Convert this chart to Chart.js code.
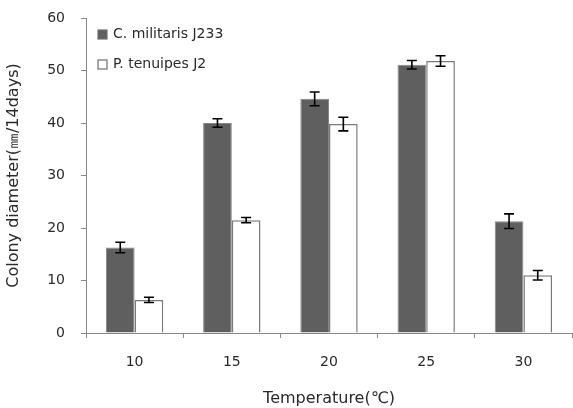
<!DOCTYPE html>
<html>
<head>
<meta charset="utf-8">
<script src="https://cdn.jsdelivr.net/npm/chart.js@4.4.1/dist/chart.umd.min.js"></script>
<style>
  body { margin: 0; background: #fff; }
</style>
</head>
<body>
<canvas id="colony-chart" width="573" height="408"></canvas>
<script>
const temperatures = ['10', '15', '20', '25', '30'];
const militarisMeans = [16.3, 40.0, 44.6, 51.1, 21.3];
const militarisErrors = [1.0, 0.8, 1.3, 0.8, 1.4];
const tenuipesMeans = [6.3, 21.5, 39.8, 51.8, 11.0];
const tenuipesErrors = [0.5, 0.5, 1.3, 1.0, 0.9];
const yTicks = [0, 10, 20, 30, 40, 50, 60];

const fontFamily = "'DejaVu Sans', sans-serif";

// error bars, drawn on top of the bars
const errorBars = {
  id: 'errorBars',
  afterDatasetsDraw(chart) {
    const ctx = chart.ctx;
    const yScale = chart.scales.y;
    ctx.save();
    ctx.strokeStyle = '#000';
    ctx.lineWidth = 1.6;
    chart.data.datasets.forEach((ds, i) => {
      const meta = chart.getDatasetMeta(i);
      meta.data.forEach((bar, j) => {
        const top = yScale.getPixelForValue(ds.data[j] + ds.errors[j]);
        const bottom = yScale.getPixelForValue(ds.data[j] - ds.errors[j]);
        const x = bar.x;
        ctx.beginPath();
        ctx.moveTo(x, top); ctx.lineTo(x, bottom);
        ctx.moveTo(x - 5, top); ctx.lineTo(x + 5, top);
        ctx.moveTo(x - 5, bottom); ctx.lineTo(x + 5, bottom);
        ctx.stroke();
      });
    });
    ctx.restore();
  }
};

// legend inside the plot, top left
const insideLegend = {
  id: 'insideLegend',
  afterDraw(chart) {
    const ctx = chart.ctx;
    const area = chart.chartArea;
    ctx.save();
    ctx.font = '14px ' + fontFamily;
    ctx.textBaseline = 'middle';
    chart.data.datasets.forEach((ds, i) => {
      const y = area.top + 12 + i * 30;
      const x = area.left + 12;
      ctx.fillStyle = ds.backgroundColor;
      ctx.fillRect(x, y, 9, 9);
      ctx.strokeStyle = '#6e6e6e';
      ctx.lineWidth = 1.2;
      ctx.strokeRect(x, y, 9, 9);
      ctx.fillStyle = '#2a2a2a';
      ctx.fillText(ds.label, x + 15, y + 4.5);
    });
    ctx.restore();
  }
};

const ctx = document.getElementById('colony-chart');

new Chart(ctx, {
  type: 'bar',
  data: {
    labels: temperatures,
    datasets: [{
      label: 'C. militaris J233',
      data: militarisMeans,
      errors: militarisErrors,
      backgroundColor: '#5f5f5f',
      borderColor: '#858585',
      borderWidth: 1
    }, {
      label: 'P. tenuipes J2',
      data: tenuipesMeans,
      errors: tenuipesErrors,
      backgroundColor: '#ffffff',
      borderColor: '#7a7a7a',
      borderWidth: 1.5
    }]
  },
  options: {
    responsive: false,
    animation: false,
    layout: { padding: { top: 18, right: 1, left: 0, bottom: 0 } },
    datasets: {
      bar: { categoryPercentage: 0.59, barPercentage: 1.0 }
    },
    scales: {
      x: {
        grid: {
          offset: true,
          drawOnChartArea: false,
          tickLength: 5,
          color: '#888'
        },
        border: { color: '#888', width: 1 },
        ticks: {
          color: '#2a2a2a',
          padding: 16,
          font: { family: fontFamily, size: 14 }
        },
        title: {
          display: true,
          text: 'Temperature(℃)',
          color: '#2a2a2a',
          padding: { top: 10, bottom: 0 },
          font: { family: fontFamily, size: 16 }
        },
        afterFit(scale) { scale.height = 75; }
      },
      y: {
        min: 0,
        max: 60,
        afterBuildTicks(scale) { scale.ticks = yTicks.map(v => ({ value: v })); },
        grid: {
          drawOnChartArea: false,
          tickLength: 5,
          color: '#888'
        },
        border: { color: '#888', width: 1 },
        ticks: {
          color: '#2a2a2a',
          padding: 16,
          font: { family: fontFamily, size: 14 }
        },
        title: {
          display: true,
          text: 'Colony diameter(㎜/14days)',
          color: '#2a2a2a',
          padding: { top: 4, bottom: 4 },
          font: { family: fontFamily, size: 16 }
        },
        afterFit(scale) {
          scale.width = 86;
          scale.paddingTop = 8;
          scale.paddingBottom = 8;
        }
      }
    },
    plugins: {
      legend: { display: false },
      tooltip: { enabled: false }
    }
  },
  plugins: [errorBars, insideLegend]
});
</script>
</body>
</html>
